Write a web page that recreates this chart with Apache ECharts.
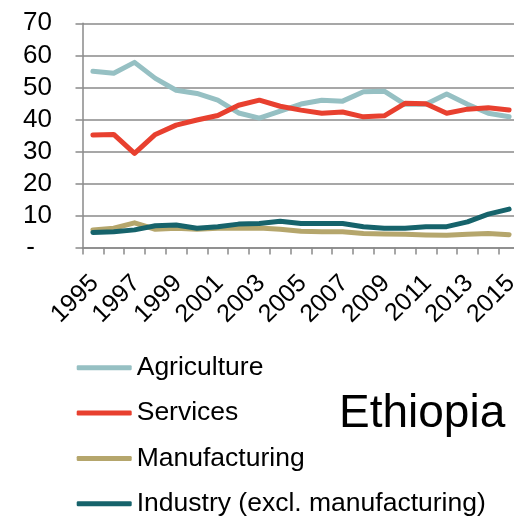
<!DOCTYPE html>
<html>
<head>
<meta charset="utf-8">
<script src="https://cdn.jsdelivr.net/npm/echarts@6/dist/echarts.min.js"></script>
<style>
  html, body { margin: 0; padding: 0; background: #fff; }
  #chart { width: 514px; height: 516px; }
</style>
</head>
<body>
<div id="chart"></div>
<script>
// Sector shares of GDP (%), Ethiopia, 1995-2015
const years = ['1995','1996','1997','1998','1999','2000','2001','2002','2003','2004','2005',
               '2006','2007','2008','2009','2010','2011','2012','2013','2014','2015'];
const agriculture   = [55.0, 54.4, 57.8, 52.8, 49.1, 48.1, 46.0, 42.0, 40.4, 42.6, 44.8,
                       46.0, 45.7, 48.6, 48.8, 44.7, 44.7, 47.9, 44.7, 41.9, 40.8];
const services      = [35.1, 35.3, 29.4, 35.3, 38.2, 39.8, 41.2, 44.4, 46.0, 44.1, 42.9,
                       41.9, 42.3, 40.8, 41.1, 45.0, 44.9, 41.9, 43.2, 43.6, 42.9];
const manufacturing = [5.5, 6.0, 7.7, 5.7, 6.0, 5.7, 6.0, 6.0, 6.1, 5.7, 5.1,
                       4.9, 4.9, 4.4, 4.2, 4.1, 3.9, 3.8, 4.1, 4.4, 4.0];
const industry      = [4.7, 4.9, 5.5, 6.8, 7.0, 6.0, 6.5, 7.3, 7.5, 8.2, 7.5,
                       7.5, 7.5, 6.5, 6.0, 6.0, 6.5, 6.5, 8.0, 10.4, 12.0];
const seriesNames = ['Agriculture', 'Services', 'Manufacturing', 'Industry (excl. manufacturing)'];
const countryName = 'Ethiopia';

const FONT = '"Liberation Sans", Arial, sans-serif';
const axisGray = '#8a8a8a';

const chart = echarts.init(document.getElementById('chart'), null, { renderer: 'canvas' });

function lineSeries(name, data, color, z) {
  return {
    name, type: 'line', data, z,
    symbol: 'none', smooth: false, animation: false,
    lineStyle: { color, width: 5, cap: 'round', join: 'round' },
    itemStyle: { color }
  };
}

chart.setOption({
  animation: false,
  backgroundColor: '#ffffff',
  textStyle: { fontFamily: FONT },
  grid: { left: 82.5, top: 23.3, width: 437, height: 224.2, containLabel: false, outerBoundsMode: 'none' },
  xAxis: {
    type: 'category',
    data: years,
    boundaryGap: true,
    axisLine: { lineStyle: { color: axisGray, width: 1.5 } },
    axisTick: { show: true, interval: 0, length: 7, lineStyle: { color: axisGray, width: 1.5 } },
    axisLabel: {
      interval: 1, rotate: 45, margin: 16,
      align: 'right', verticalAlign: 'top',
      padding: [0, 10, 0, 0],
      color: '#000', fontSize: 25, fontFamily: FONT
    },
    splitLine: { show: false }
  },
  yAxis: {
    type: 'value',
    min: 0, max: 70, interval: 10,
    axisLine: { show: true, lineStyle: { color: axisGray, width: 1.5 } },
    axisTick: { show: true, length: 7, lineStyle: { color: axisGray, width: 1.5 } },
    splitLine: { show: true, lineStyle: { color: axisGray, width: 1.5 } },
    axisLabel: {
      margin: 30.5, color: '#000', fontSize: 26, fontFamily: FONT,
      formatter: v => v === 0 ? '{d|-}' : String(v),
      rich: { d: { fontSize: 26, fontFamily: FONT, color: '#000', padding: [0, 17, 0, 0] } }
    }
  },
  legend: {
    data: seriesNames,
    orient: 'vertical',
    left: 76.7, top: 354.3, height: 200,
    padding: 0,
    itemWidth: 55, itemHeight: 5, itemGap: 18.3,
    icon: 'roundRect',
    textStyle: { fontSize: 26.5, fontFamily: FONT, color: '#000' },
    selectedMode: false
  },
  graphic: [{
    type: 'text', left: 339, top: 391,
    style: { text: countryName, fontSize: 46, fontFamily: FONT, fill: '#000' }
  }],
  series: [
    lineSeries(seriesNames[0], agriculture, '#96c0c3', 2),
    lineSeries(seriesNames[1], services, '#e8402f', 5),
    lineSeries(seriesNames[2], manufacturing, '#b5a66c', 3),
    lineSeries(seriesNames[3], industry, '#16636b', 4)
  ]
});
</script>
</body>
</html>
